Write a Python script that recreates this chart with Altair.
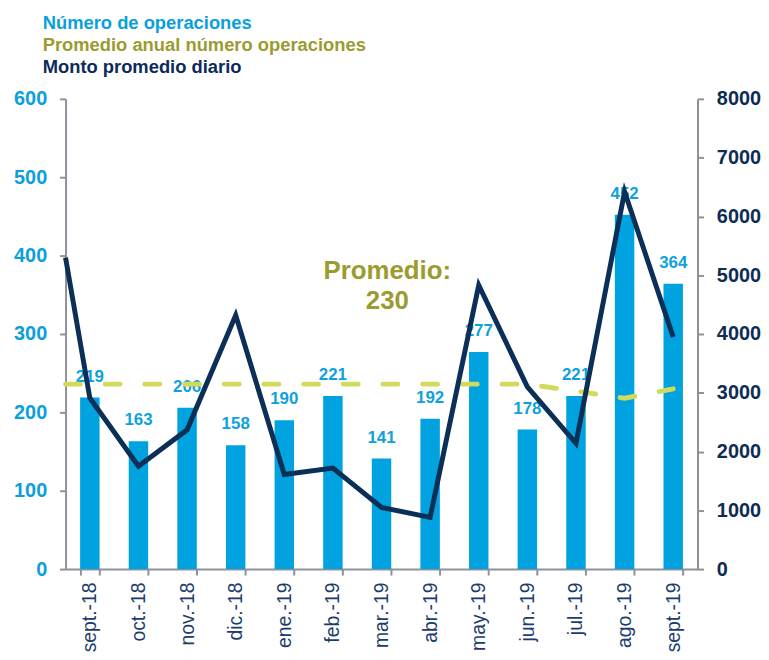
import altair as alt
import pandas as pd

FONT = "Liberation Sans"

meses = ["sept.-18", "oct.-18", "nov.-18", "dic.-18", "ene.-19", "feb.-19", "mar.-19",
         "abr.-19", "may.-19", "jun.-19", "jul.-19", "ago.-19", "sept.-19"]
operaciones = [219, 163, 206, 158, 190, 221, 141, 192, 277, 178, 221, 452, 364]

# line series (first point sits at the left edge of the axis, half a month before sept.-18)
posicion = [-0.5, 0, 1, 2, 3, 4, 5, 6, 7, 8, 9, 10, 11, 12]
monto_diario = [5300, 2910, 1750, 2370, 4320, 1610, 1720, 1050, 880, 4830, 3100, 2140, 6420, 3950]
promedio_anual = [236, 236, 236, 236, 236, 236, 236, 236, 236, 236, 236, 227, 218, 230]

anot_texto = ["Promedio:", "230"]
anot_x = [6.12, 6.12]
anot_y = [370, 332]

leyenda = ["Número de operaciones", "Promedio anual número operaciones", "Monto promedio diario"]
leyenda_col = ["#0aa0dc", "#9c9b30", "#0c2a5a"]

C_BAR = "#00a2df"
C_LINE = "#0b2f56"
C_DASH = "#d3da5b"
C_AX = "#8e919b"

W, H = 637, 474

df_bar = pd.DataFrame({"mes": meses, "ops": operaciones})
df_line = pd.DataFrame({"pos": posicion, "monto": monto_diario, "prom": promedio_anual})
df_anot = pd.DataFrame({"t": anot_texto, "x": anot_x, "y": anot_y})
df_leg = pd.DataFrame({"t": leyenda})

xband = alt.Scale(type="band", domain=meses, paddingInner=0.6, paddingOuter=0.3)
xq = alt.Scale(domain=[-0.5, 12.5], nice=False, zero=False)
yl = alt.Scale(domain=[0, 600], nice=False)
yr = alt.Scale(domain=[0, 8000], nice=False)

x_axis = alt.Axis(title=None, labelAngle=270, labelFontSize=19.5, labelColor="#1b3d6d",
                  labelFont=FONT, tickBand="extent", tickSize=6, tickWidth=2, tickColor=C_AX,
                  domainColor=C_AX, domainWidth=2, labelPadding=7, grid=False)
yl_axis = alt.Axis(title=None, values=[0, 100, 200, 300, 400, 500, 600], labelFontSize=20,
                   labelFontWeight="bold", labelColor="#0aa0dc", labelFont=FONT, tickSize=6,
                   tickWidth=2, tickColor=C_AX, domainColor=C_AX, domainWidth=2,
                   labelPadding=13, grid=False, minExtent=58)
yr_axis = alt.Axis(title=None, orient="right", values=[0, 1000, 2000, 3000, 4000, 5000, 6000, 7000, 8000],
                   format="d", labelFontSize=20, labelFontWeight="bold", labelColor="#0c2c55",
                   labelFont=FONT, tickSize=6, tickWidth=2, tickColor=C_AX, domainColor=C_AX,
                   domainWidth=2, labelPadding=13, grid=False)

bars = alt.Chart(df_bar).mark_bar(color=C_BAR).encode(
    x=alt.X("mes:N", sort=meses, scale=xband, axis=x_axis),
    y=alt.Y("ops:Q", scale=yl, axis=yl_axis),
)
labels = alt.Chart(df_bar).mark_text(color="#0ea2dd", fontSize=17, fontWeight="bold", font=FONT,
                                     baseline="alphabetic", dy=-16).encode(
    x=alt.X("mes:N", sort=meses, scale=xband, axis=None),
    y=alt.Y("ops:Q", scale=yl, axis=None),
    text="ops:Q",
)
dashed = alt.Chart(df_line).mark_line(color=C_DASH, strokeWidth=5, strokeDash=[15, 25],
                                      strokeCap="round").encode(
    x=alt.X("pos:Q", scale=xq, axis=None),
    y=alt.Y("prom:Q", scale=yl, axis=None),
)
line = alt.Chart(df_line).mark_line(color=C_LINE, strokeWidth=5, strokeJoin="miter").encode(
    x=alt.X("pos:Q", scale=xq, axis=None),
    y=alt.Y("monto:Q", scale=yr, axis=yr_axis),
)
anot = alt.Chart(df_anot).mark_text(color="#9c9b30", fontSize=26, fontWeight="bold", font=FONT,
                                    baseline="alphabetic").encode(
    x=alt.X("x:Q", scale=xq, axis=None),
    y=alt.Y("y:Q", scale=yl, axis=None),
    text="t:N",
)

main = alt.layer(bars, labels, dashed, line, anot).resolve_scale(
    x="independent", y="independent"
).properties(width=W, height=H)

leg = alt.Chart(df_leg).mark_text(align="left", baseline="alphabetic", fontSize=18.5,
                                  fontWeight="bold", font=FONT, dx=-23).encode(
    y=alt.Y("t:N", sort=leyenda, axis=None, scale=alt.Scale(type="point", padding=0.5)),
    x=alt.value(0),
    color=alt.Color("t:N", scale=alt.Scale(domain=leyenda, range=leyenda_col), legend=None),
    text="t:N",
).properties(width=W, height=67.5)

chart = alt.vconcat(leg, main, spacing=4).properties(
    padding={"left": 0, "right": 0, "top": 3, "bottom": 0}
).configure_view(stroke=None)

chart.save("out.html", embed_options={"renderer": "svg", "actions": False})
